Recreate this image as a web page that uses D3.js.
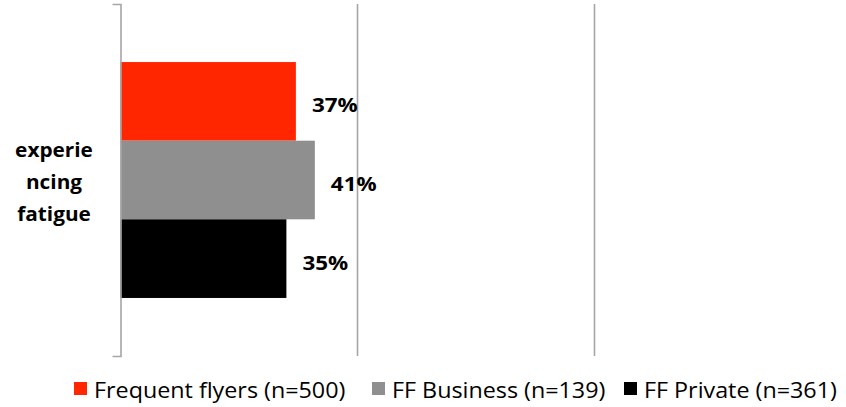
<!DOCTYPE html>
<html>
<head>
<meta charset="utf-8">
<script src="https://cdn.jsdelivr.net/npm/d3@7"></script>
<style>
  body { margin: 0; background: #fff; }
  svg { display: block; font-family: "Open Sans", Lato, sans-serif; }
</style>
</head>
<body>
<svg></svg>
<script>
// data
const categories = ["experiencing fatigue"];
const categoryLines = ["experie", "ncing", "fatigue"];
const series = ["Frequent flyers (n=500)", "FF Business (n=139)", "FF Private (n=361)"];
const values = [0.37, 0.41, 0.35];
const xTicks = [0.5, 1.0];

const width = 846;
const height = 407;
const margin = { top: 4, right: 14, bottom: 51, left: 120.5 };

const svg = d3.select("svg")
  .attr("width", width)
  .attr("height", height);

const colors = d3.scaleOrdinal()
  .domain(series)
  .range(["#ff2600", "#8f8f8f", "#000000"]);

const x = d3.scaleLinear()
  .domain([0, 1.5])
  .range([margin.left, margin.left + 711]);

const y = d3.scaleBand()
  .domain(categories)
  .range([margin.top, height - margin.bottom])
  .paddingInner(0)
  .paddingOuter(0.246);

const ySub = d3.scaleBand()
  .domain(series)
  .range([0, y.bandwidth()]);

// gridlines
svg.append("g")
  .selectAll("line")
  .data(xTicks)
  .enter()
  .append("line")
  .attr("x1", d => x(d))
  .attr("x2", d => x(d))
  .attr("y1", margin.top)
  .attr("y2", height - margin.bottom)
  .attr("stroke", "#a6a6a6")
  .attr("stroke-width", 1.6);

// bars
const group = svg.append("g")
  .attr("transform", `translate(0, ${y(categories[0])})`);

group.selectAll("rect")
  .data(series)
  .enter()
  .append("rect")
  .attr("x", x(0))
  .attr("y", d => ySub(d))
  .attr("width", (d, i) => x(values[i]) - x(0))
  .attr("height", ySub.bandwidth())
  .attr("fill", d => colors(d));

// value labels (text is a bit stretched in the original)
group.selectAll(".val")
  .data(series)
  .enter()
  .append("g")
  .attr("class", "val")
  .attr("transform", (d, i) => `translate(${x(values[i]) + 16}, ${ySub(d) + ySub.bandwidth() / 2 + 11}) scale(1.12, 1)`)
  .append("text")
  .style("font-size", "20px")
  .style("font-weight", "bold")
  .text((d, i) => Math.round(values[i] * 100) + "%");

// y axis (bracket style)
const yAxis = svg.append("g")
  .attr("transform", `translate(${x(0)}, 0)`)
  .call(d3.axisLeft(y).tickSize(0).tickSizeOuter(8).tickFormat(""));
yAxis.select(".domain")
  .attr("stroke", "#a6a6a6")
  .attr("stroke-width", 1.6);

// category label, wrapped as in the original
const catText = svg.append("g")
  .attr("transform", `translate(54, ${y(categories[0]) + y.bandwidth() / 2}) scale(1.04, 1)`)
  .append("text")
  .attr("text-anchor", "middle")
  .style("font-size", "20px")
  .style("font-weight", "bold");
catText.selectAll("tspan")
  .data(categoryLines)
  .enter()
  .append("tspan")
  .attr("x", 0)
  .attr("y", (d, i) => -23 + i * 32)
  .text(d => d);

// legend
const legendX = [74, 372, 624];
const legend = svg.append("g")
  .attr("transform", `translate(0, ${height - 9})`);

const items = legend.selectAll("g")
  .data(series)
  .enter()
  .append("g")
  .attr("transform", (d, i) => `translate(${legendX[i]}, 0)`);

items.append("rect")
  .attr("x", 0)
  .attr("y", -16)
  .attr("width", 13)
  .attr("height", 13)
  .attr("fill", d => colors(d));

items.append("g")
  .attr("transform", "translate(20, 0) scale(1.11, 1)")
  .append("text")
  .style("font-size", "21px")
  .attr("fill", "#000")
  .text(d => d);
</script>
</body>
</html>
